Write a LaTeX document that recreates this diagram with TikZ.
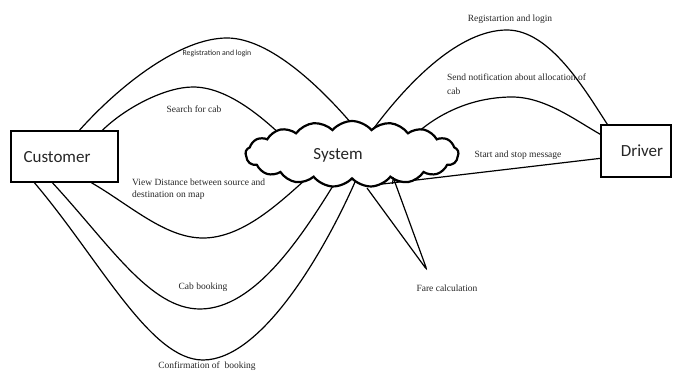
\documentclass[tikz,border=0pt]{standalone}
\usepackage{fontspec}
\setmainfont{Liberation Serif}
\newfontfamily\calfont{Carlito}
\usetikzlibrary{shapes.symbols,arrows.meta,calc,backgrounds}
\begin{document}
\begin{tikzpicture}[x=1pt,y=-1pt,
  box/.style={draw,line width=1.3pt,inner sep=0pt},
  boxtxt/.style={font=\calfont\fontsize{17}{20}\selectfont,inner sep=0pt,text=black!85},
  systxt/.style={font=\calfont\fontsize{17}{20}\selectfont,inner sep=0pt,text=black!85},
  sysshape/.style={draw,line width=2.2pt,fill=white,cloud,cloud puffs=17,cloud puff arc=100,
    aspect=3.2,minimum width=213pt,minimum height=66pt,inner sep=0pt},
  flow/.style={line width=1.2pt},
  lbl/.style={font=\fontsize{9.5}{12}\selectfont,inner sep=0pt,text=black!85},
  slbl/.style={font=\calfont\fontsize{7.8}{10}\selectfont,inner sep=0pt,text=black!85},
]
\useasboundingbox (0,0) rectangle (673,372);

% nodes
\node[box,minimum width=107pt,minimum height=51pt] (cust) at (64.5,156.5) {};
\node[boxtxt] (custtxt) at (57,157) {Customer};
\node[box,minimum width=70pt,minimum height=52pt] (drv) at (636,151) {};
\node[boxtxt] (drvtxt) at (642,151) {Driver};
\node[sysshape] (sys) at (352,154) {};
\node[systxt] (systext) at (338,155) {System};

% connectors behind the cloud
\begin{scope}[on background layer]
  % customer side
  \draw[flow] ($(cust.north west)+(69,0)$) .. controls (120,85) and (180,38) .. (227,38)
        .. controls (270,38) and (322,88) .. ($(sys.center)+(5,-24)$);
  \draw[flow] ($(cust.north west)+(92,0)$) .. controls (125,108) and (165,87) .. (193,87)
        .. controls (225,87) and (258,113) .. ($(sys.center)+(-68,-16)$);
  \draw[flow] ($(cust.south west)+(81,0)$) .. controls (130,205) and (165,238) .. (203,238)
        .. controls (242,238) and (278,204) .. ($(sys.center)+(-47,26)$);
  \draw[flow] ($(cust.south west)+(42,0)$) .. controls (110,245) and (150,309) .. (200,309)
        .. controls (255,309) and (302,236) .. ($(sys.center)+(-16,27)$);
  \draw[flow] ($(cust.south west)+(24,0)$) .. controls (100,260) and (150,360) .. (203,360)
        .. controls (262,360) and (325,250) .. ($(sys.center)+(3,28)$);
  % driver side
  \draw[flow] ($(sys.center)+(22,-26)$) .. controls (410,80) and (460,30) .. (507,30)
        .. controls (550,30) and (585,90) .. ($(drv.north west)+(7,0)$);
  \draw[flow] ($(sys.center)+(66,-22)$) .. controls (450,105) and (485,97) .. (512,97)
        .. controls (545,97) and (575,120) .. ($(drv.north west)+(0,10)$);
  \draw[flow] ($(sys.center)+(28,30.3)$) -- ($(drv.north west)+(0,34)$);
\end{scope}

% fare calculation loop
\coordinate (faretip) at (427,270);
\draw[flow,rounded corners=3pt,-{Straight Barb[length=5pt,width=6pt]}]
  ($(sys.center)+(15,34)$) -- (faretip) -- ($(sys.center)+(41,23)$);

% labels
\node[slbl] (l1) at (217,53) {Registration and login};
\node[lbl] (l2) at (194,109) {Search for cab};
\node[lbl,align=left,anchor=north west] (l3) at (132,179) {View Distance between source and\\destination on map};
\node[lbl] (l4) at (203,287) {Cab booking};
\node[lbl] (l5) at (207,366) {Confirmation of\ \ booking};
\node[lbl] (l6) at (510,19) {Registartion and login};
\node[lbl,align=left,anchor=north west,font=\fontsize{9.5}{14}\selectfont] (l7) at (447,74) {Send notification about allocation of\\cab};
\node[lbl] (l8) at (518,155) {Start and stop message};
\node[lbl] (l9) at (447,288) {Fare calculation};
\end{tikzpicture}
\end{document}
